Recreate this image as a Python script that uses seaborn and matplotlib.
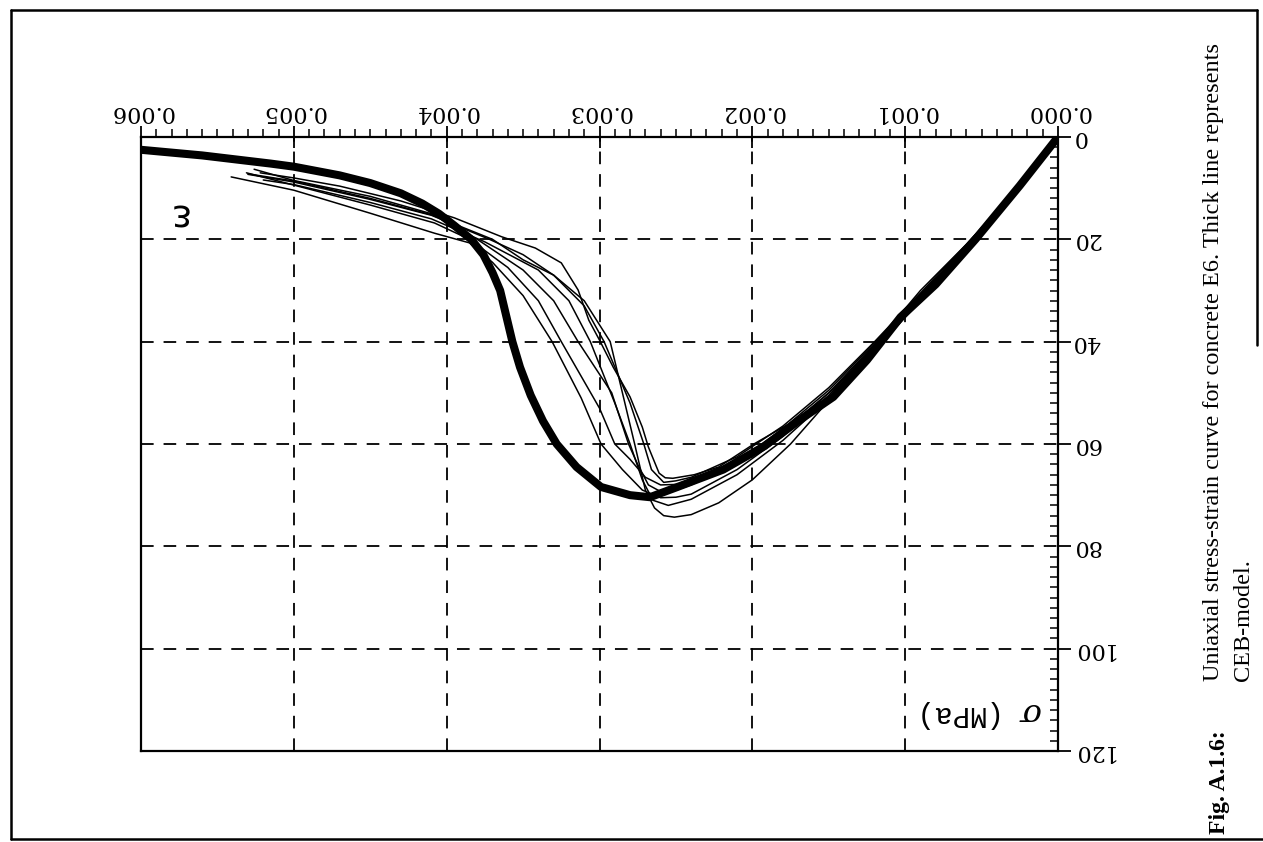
import matplotlib
matplotlib.use("Agg")
import matplotlib.pyplot as plt
from matplotlib.lines import Line2D
from matplotlib.ticker import MultipleLocator
import pandas as pd
import seaborn as sns

# ---- CEB model (strain [-], stress [MPa]) ----
ceb_strain = [0.0, 0.00025, 0.00054, 0.00080, 0.00103, 0.00125, 0.00147, 0.00170,
              0.00192, 0.00219, 0.00249, 0.00267, 0.00280, 0.00299, 0.00315, 0.00328,
              0.00337, 0.00345, 0.00352, 0.00357, 0.00361, 0.00365, 0.00370, 0.00376,
              0.00384, 0.00395, 0.00405, 0.00416, 0.00430, 0.00450, 0.00470, 0.00500,
              0.00515, 0.00560, 0.00600]
ceb_stress = [0.0, 9.5, 20.0, 28.8, 35.2, 43.6, 50.8, 55.5,
              60.4, 65.0, 68.4, 70.4, 70.0, 68.4, 64.5, 60.0,
              55.5, 50.5, 45.0, 40.0, 35.0, 30.0, 26.5, 23.0,
              20.0, 17.3, 15.0, 13.0, 11.0, 9.0, 7.5, 5.8,
              5.2, 3.6, 2.5]

# ---- measured curves, concrete E6 ----
t1_strain = [0, 0.00030, 0.00060, 0.00090, 0.00103, 0.00124, 0.00146, 0.00168, 0.00199,
             0.00222, 0.00238, 0.00252, 0.00257, 0.00261, 0.00268, 0.00272, 0.00280,
             0.00291, 0.00300, 0.00307, 0.00314, 0.00325, 0.00342, 0.00364, 0.00395,
             0.00430, 0.00470, 0.00500, 0.00522]
t1_stress = [0, 11.2, 21.0, 30.0, 34.6, 42.0, 49.0, 54.7, 60.0,
             64.5, 66.0, 66.7, 66.6, 65.7, 60.6, 56.7, 50.8,
             45.0, 39.7, 35.8, 29.9, 24.6, 21.7, 19.5, 15.8,
             12.5, 9.6, 8.0, 7.0]

t2_strain = [0, 0.00030, 0.00060, 0.00090, 0.00120, 0.00150, 0.00180, 0.00210, 0.00240,
             0.00250, 0.00260, 0.00272, 0.00285, 0.00299, 0.00312, 0.00331, 0.00350,
             0.00370, 0.00385, 0.00408, 0.00450, 0.00500, 0.00541]
t2_stress = [0, 11.8, 22.0, 31.5, 41.0, 50.5, 58.5, 65.0, 69.8,
             70.4, 70.5, 69.0, 65.0, 60.0, 51.0, 40.0, 31.0,
             24.5, 20.7, 18.8, 14.9, 10.4, 7.8]

t3_strain = [0, 0.0003, 0.0006, 0.0009, 0.0012, 0.0015, 0.0018, 0.0021, 0.0024, 0.0025,
             0.0026, 0.0027, 0.0028, 0.0029, 0.0030, 0.00325, 0.0034, 0.0036, 0.00385,
             0.00408, 0.0045, 0.0050, 0.00531]
t3_stress = [0, 11.0, 21.5, 31.0, 40.5, 50.0, 57.5, 63.5, 67.3, 67.9,
             68.0, 66.5, 63.0, 60.0, 53.0, 40.0, 32.0, 25.5, 20.0,
             16.8, 13.3, 9.4, 7.0]

t4_strain = [0, 0.0003, 0.0006, 0.0009, 0.00118, 0.0015, 0.00175, 0.0020, 0.00222,
             0.00240, 0.00251, 0.00258, 0.00264, 0.0027, 0.00277, 0.00285, 0.00293,
             0.0031, 0.0033, 0.0035, 0.00372, 0.0041, 0.0045, 0.0050, 0.0053]
t4_stress = [0, 11.6, 22.0, 31.5, 40.5, 51.5, 60.0, 67.0, 71.5,
             73.8, 74.3, 74.0, 72.5, 69.0, 60.0, 50.0, 40.0,
             32.0, 27.0, 23.0, 20.0, 15.3, 12.2, 8.8, 7.3]

t5_strain = [0, 0.0003, 0.0006, 0.0009, 0.0012, 0.0015, 0.0018, 0.0021, 0.0024, 0.00255,
             0.00265, 0.00272, 0.0028, 0.0029, 0.00306, 0.0032, 0.0034, 0.00375, 0.0041,
             0.0045, 0.0050, 0.0052]
t5_stress = [0, 11.9, 22.3, 32.0, 41.8, 51.2, 59.3, 66.0, 70.8, 72.0,
             71.0, 67.0, 60.0, 52.0, 40.0, 32.0, 26.0, 20.5, 16.0,
             12.8, 9.3, 8.4]

t6_strain = [0, 0.0003, 0.0006, 0.0009, 0.0012, 0.0015, 0.0018, 0.0021, 0.0024, 0.0025,
             0.0026, 0.00268, 0.00275, 0.00281, 0.00292, 0.00314, 0.0033, 0.0035, 0.0038,
             0.0041, 0.0045, 0.0050, 0.00526]
t6_stress = [0, 11.3, 21.3, 30.8, 40.2, 49.5, 57.0, 63.5, 68.0, 69.0,
             69.3, 68.0, 64.0, 60.0, 50.0, 40.0, 32.0, 26.0, 20.0,
             15.0, 11.6, 8.5, 6.3]

t7_strain = [0, 0.0003, 0.0006, 0.0009, 0.0012, 0.0015, 0.0018, 0.0021, 0.0024, 0.0025,
             0.00258, 0.00266, 0.00271, 0.0028, 0.00297, 0.0031, 0.0033, 0.0035, 0.0037,
             0.0041, 0.0045, 0.0050, 0.0053]
t7_stress = [0, 11.2, 21.0, 30.5, 40.0, 49.0, 56.5, 62.5, 66.5, 67.2,
             67.5, 65.0, 60.0, 52.0, 40.0, 33.0, 27.0, 24.0, 20.0,
             15.2, 12.0, 8.6, 7.2]

# ---- axis ticks ----
strain_ticks = [0.000, 0.001, 0.002, 0.003, 0.004, 0.005, 0.006]
strain_labels = ["0.000", "0.001", "0.002", "0.003", "0.004", "0.005", "0.006"]
stress_ticks = [0, 20, 40, 60, 80, 100, 120]
stress_labels = ["0", "20", "40", "60", "80", "100", "120"]

caption_head = "Fig. A.1.6:"
caption_line1 = "Uniaxial stress-strain curve for concrete E6. Thick line represents"
caption_line2 = "CEB-model."

tests = [(t1_strain, t1_stress), (t2_strain, t2_stress), (t3_strain, t3_stress),
         (t4_strain, t4_stress), (t5_strain, t5_stress), (t6_strain, t6_stress),
         (t7_strain, t7_stress)]
rows = []
for k, (s, p) in enumerate(tests, start=1):
    for a, b in zip(s, p):
        rows.append({"specimen": k, "strain": a, "stress": b})
tests_df = pd.DataFrame(rows)
ceb_df = pd.DataFrame({"strain": ceb_strain, "stress": ceb_stress})

sns.set_theme(style="white")
plt.rcParams["font.family"] = ["DejaVu Serif"]

W, H = 1263, 842
fig = plt.figure(figsize=(W / 100, H / 100), dpi=100)
fig.patch.set_facecolor("white")


def fx(px):
    return px / W


def fy(py):
    return 1 - py / H


ax = fig.add_axes([fx(141), fy(751), fx(1058) - fx(141), fy(137) - fy(751)])
ax.set_facecolor("white")

sns.lineplot(data=ceb_df, x="strain", y="stress", sort=False, estimator=None,
             color="black", lw=5.8, solid_capstyle="butt", solid_joinstyle="round",
             ax=ax, zorder=3)
sns.lineplot(data=tests_df, x="strain", y="stress", units="specimen", sort=False,
             estimator=None, color="black", lw=1.1, ax=ax, zorder=4)

ax.set_xlim(0.006, 0.0)
ax.set_ylim(120, 0)
ax.set_xlabel("")
ax.set_ylabel("")

ax.xaxis.tick_top()
ax.yaxis.tick_right()
ax.set_xticks(strain_ticks, strain_labels, rotation=180)
ax.set_yticks(stress_ticks, stress_labels, rotation=180, va="center")
ax.xaxis.set_minor_locator(MultipleLocator(0.0001))
ax.yaxis.set_minor_locator(MultipleLocator(2))

ax.tick_params(axis="x", which="major", direction="inout", length=16, width=1.3,
               pad=2, labelsize=16, colors="black", top=True, bottom=False,
               labeltop=True, labelbottom=False)
ax.tick_params(axis="x", which="minor", direction="out", length=5.5, width=1.1,
               top=True, bottom=False, colors="black")
ax.tick_params(axis="y", which="major", direction="out", length=9, width=1.3,
               pad=1, labelsize=16, colors="black", right=True, left=False,
               labelright=True, labelleft=False)
ax.tick_params(axis="y", which="minor", direction="in", length=6, width=1.1,
               right=True, left=False, colors="black")

ax.grid(True, which="major", color="black", lw=1.3, ls=(0, (7, 5.5)))
ax.grid(False, which="minor")
for sp in ax.spines.values():
    sp.set_visible(True)
    sp.set_color("black")
    sp.set_linewidth(1.6)

# axis symbols
ax.text(0.00576, 15.0, "ε", rotation=180, ha="center", va="center",
        fontsize=27, family="DejaVu Sans", color="black")
ax.text(0.000184, 112.2, "σ", rotation=180, ha="center", va="center",
        fontsize=23, family="DejaVu Serif", style="italic", color="black")
ax.text(0.00070, 112.8, "(MPa)", rotation=180, ha="center", va="center",
        fontsize=21, family="Liberation Mono", color="black")

# caption, read bottom-to-top
fig.text(fx(1219), fy(834), caption_head, rotation=90, rotation_mode="anchor",
         ha="left", va="center", fontsize=17, family="Liberation Serif",
         weight="bold", color="black")
fig.text(fx(1214), fy(681), caption_line1, rotation=90, rotation_mode="anchor",
         ha="left", va="center", fontsize=17.5, family="Liberation Serif",
         color="black")
fig.text(fx(1243), fy(681), caption_line2, rotation=90, rotation_mode="anchor",
         ha="left", va="center", fontsize=17.5, family="Liberation Serif",
         color="black")

# page frame
frame = [([fx(11), fx(1257)], [fy(10), fy(10)]),
         ([fx(11), fx(11)], [fy(10), fy(839)]),
         ([fx(11), fx(1263)], [fy(839), fy(839)]),
         ([fx(1257), fx(1257)], [fy(10), fy(345)])]
for xs, ys in frame:
    fig.add_artist(Line2D(xs, ys, transform=fig.transFigure, color="black", lw=1.8))

fig.savefig("out.png", dpi=100, facecolor="white")
